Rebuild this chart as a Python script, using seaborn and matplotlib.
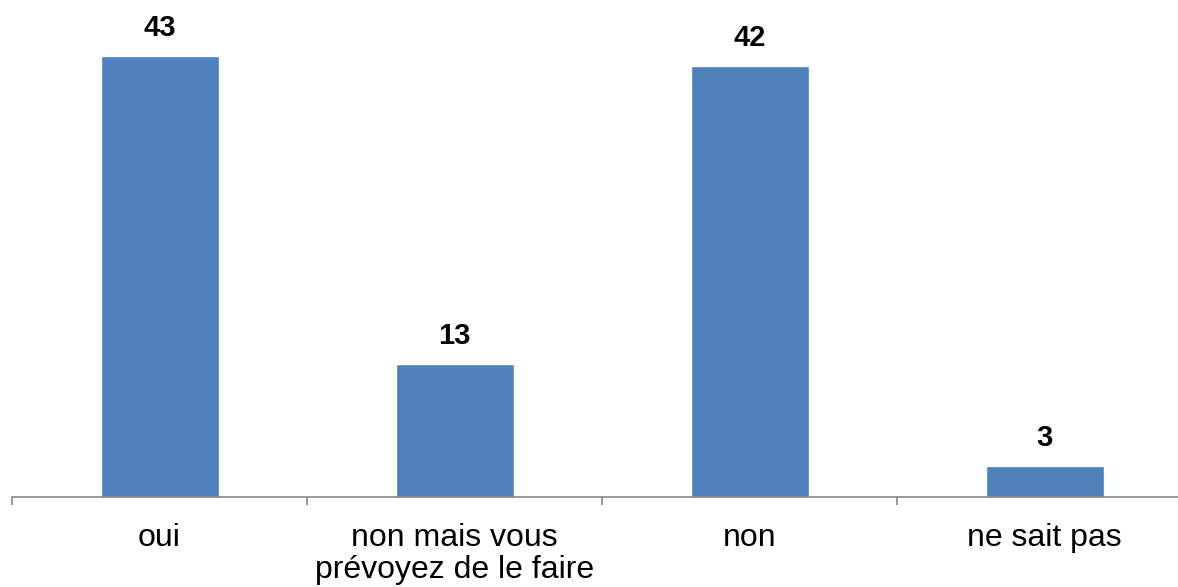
import matplotlib
matplotlib.use('Agg')
import matplotlib.pyplot as plt
import seaborn as sns
import pandas as pd
import numpy as np

# Data
categories = ['oui', 'non mais vous\nprévoyez de le faire', 'non', 'ne sait pas']
values = [43, 13, 42, 3]

df = pd.DataFrame({'reponse': categories, 'valeur': values})

sns.set_style('white')
plt.rcParams['font.family'] = ['Liberation Sans', 'DejaVu Sans']
plt.rcParams['text.color'] = 'black'
plt.rcParams['xtick.color'] = 'black'

fig = plt.figure(figsize=(11.78, 5.87), dpi=100)
ax = fig.add_axes([12 / 1178, 90 / 587, 1180 / 1178, 497 / 587])

sns.barplot(data=df, x='reponse', y='valeur', color='#4F81BD', saturation=1,
            width=0.4, ax=ax)

ax.set_xlim(-0.5, 3.5)
ax.set_ylim(0, 48.46)

# value labels
for container in ax.containers:
    ax.bar_label(container, fmt='%d', padding=10, fontsize=21, fontweight='bold',
                 color='black')

# axes cosmetics
for side in ['top', 'right', 'left']:
    ax.spines[side].set_visible(False)
ax.spines['bottom'].set_color('#868686')
ax.spines['bottom'].set_linewidth(1.2)
ax.set_yticks([])
ax.set_xlabel('')
ax.set_ylabel('')

ax.set_xticks(np.arange(len(categories)))
ax.set_xticklabels(categories, fontsize=23, linespacing=1.05, color='black')
ax.tick_params(axis='x', which='major', length=0, pad=19)
ax.set_xticks(np.arange(len(categories) + 1) - 0.5, minor=True)
ax.tick_params(axis='x', which='minor', length=6, width=1.2, color='#868686',
               direction='out', bottom=True)

fig.savefig('out.png', dpi=100)
